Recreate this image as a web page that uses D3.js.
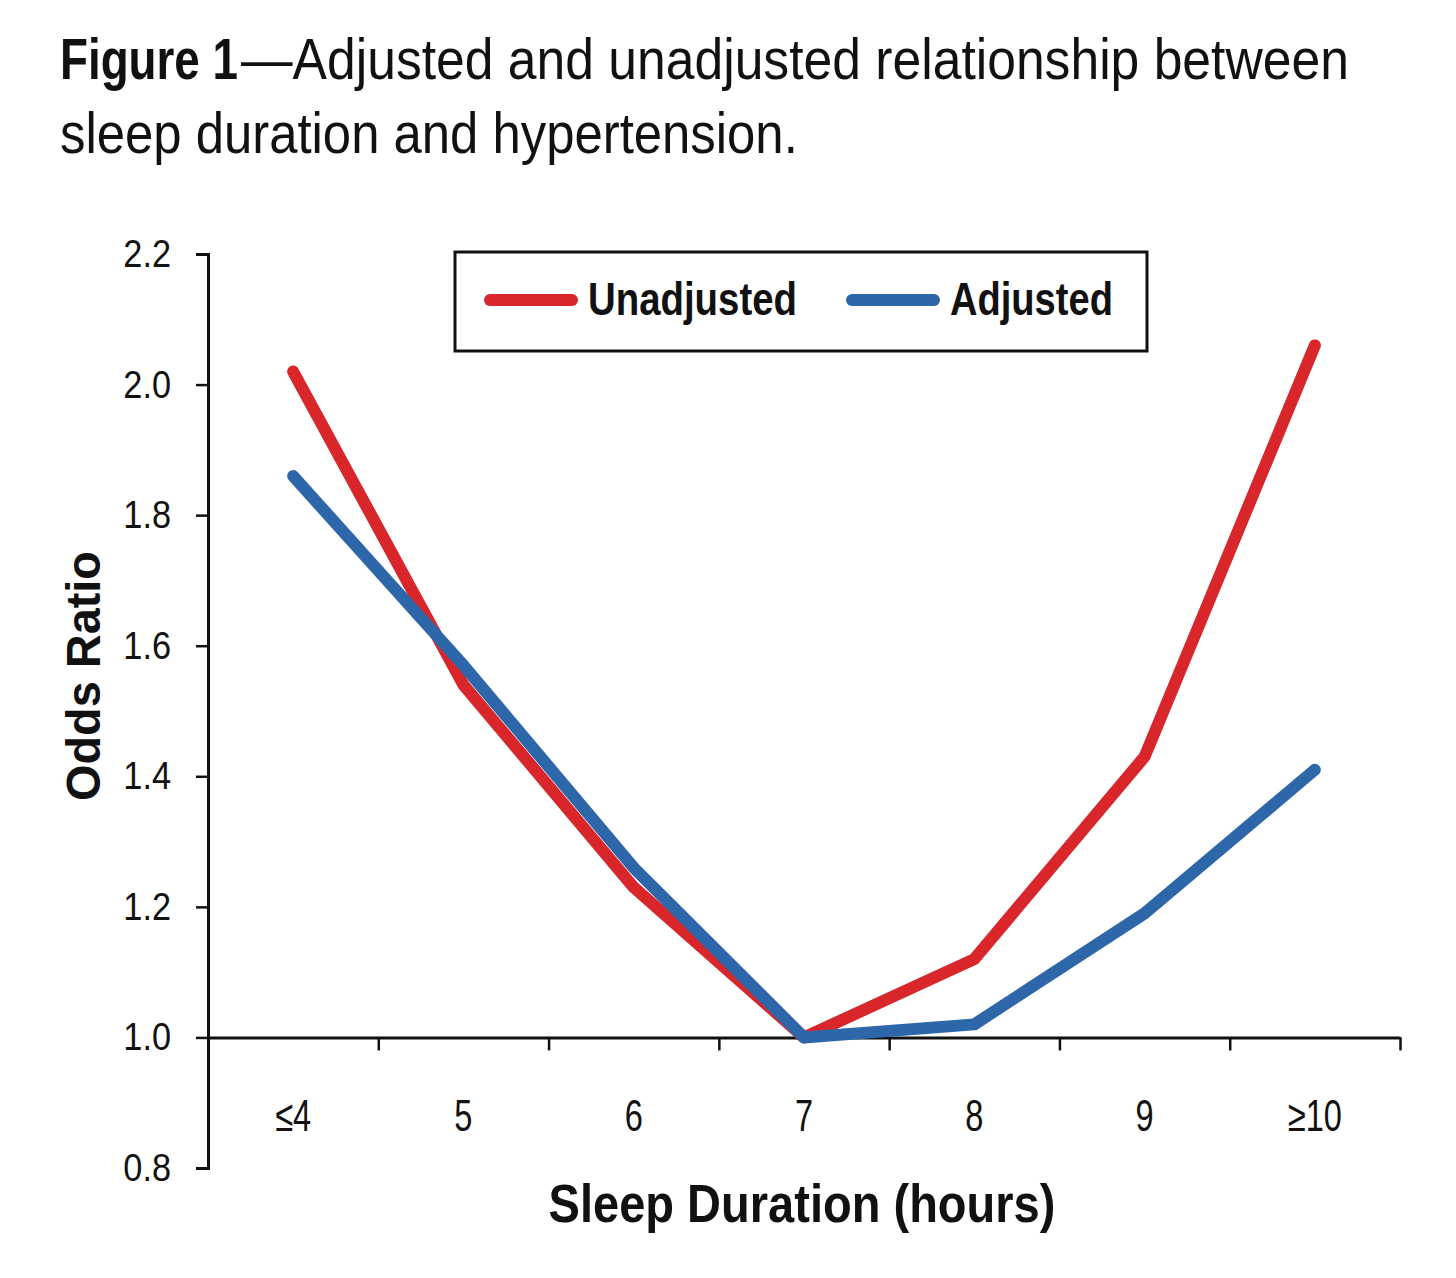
<!DOCTYPE html>
<html>
<head>
<meta charset="utf-8">
<script src="https://cdn.jsdelivr.net/npm/d3@7"></script>
<style>
  html, body { margin: 0; padding: 0; background: #fff; }
  svg { display: block; }
  text { font-family: "Liberation Sans Narrow", "Arial Narrow", "Liberation Sans", Arial, sans-serif; fill: #111; }
</style>
</head>
<body>
<div id="chart"></div>
<script>
// the data
var categories = ["\u22644", "5", "6", "7", "8", "9", "\u226510"];
var unadjusted = [2.02, 1.54, 1.23, 1.00, 1.12, 1.43, 2.06];
var adjusted   = [1.86, 1.57, 1.26, 1.00, 1.02, 1.19, 1.41];
var yTicks = [0.8, 1.0, 1.2, 1.4, 1.6, 1.8, 2.0, 2.2];
var seriesNames = ["Unadjusted", "Adjusted"];
var seriesColors = ["#d8262b", "#2d67a9"];

var W = 1456, H = 1278;

var svg = d3.select("#chart")
       .append("svg")
       .attr("width", W)
       .attr("height", H)
       .attr("viewBox", "0 0 " + W + " " + H);

// no narrow face installed, so squeeze each text to the width it has in the figure
function label(x, y, txt, size, bold, len, anchor, rot) {
       var t = svg.append("text")
              .attr("text-anchor", anchor || "start")
              .style("font-size", size + "px")
              .style("font-weight", bold ? "bold" : "normal")
              .text(txt);
       var sx = len ? len / t.node().getComputedTextLength() : 1;
       t.attr("transform", "translate(" + x + "," + y + ")" +
              (rot ? " rotate(" + rot + ")" : "") +
              " scale(" + sx + ",1)");
       return t;
}

// title, two lines
label(60, 79, "Figure 1", 57, true, 178);
label(241, 79, "\u2014Adjusted and unadjusted relationship between", 57, false, 1108);
label(60, 153, "sleep duration and hypertension.", 57, false, 738);

// scales
var y = d3.scaleLinear()
       .domain([0.8, 2.2])
       .range([1168, 254]);

var x = d3.scaleBand()
       .domain(categories)
       .range([208, 1400]);

// boundary positions between categories, for the tick marks on the x axis
var xEdge = d3.scaleLinear()
       .domain([0, categories.length])
       .range([208, 1400]);

// y axis
var yAxis = svg.append("g")
       .attr("transform", "translate(208,0)")
       .call(d3.axisLeft(y)
              .tickValues(yTicks)
              .tickFormat(d3.format(".1f"))
              .tickSizeInner(12)
              .tickSizeOuter(12)
              .tickPadding(30));
yAxis.select(".domain").attr("stroke", "#111").attr("stroke-width", 3);
yAxis.selectAll(".tick line").attr("stroke", "#111").attr("stroke-width", 2.5);
yAxis.selectAll(".tick text")
       .style("font-size", "39px")
       .style("font-family", null)
       .attr("transform", "scale(0.88,1)")
       .attr("fill", "#111");

// x axis line + boundary ticks, drawn at OR = 1.0
var xTicksG = svg.append("g")
       .attr("transform", "translate(0," + y(1.0) + ")")
       .call(d3.axisBottom(xEdge)
              .tickValues(d3.range(1, categories.length + 1))
              .tickFormat("")
              .tickSizeInner(13)
              .tickSizeOuter(0));
xTicksG.select(".domain").attr("stroke", "#111").attr("stroke-width", 3);
xTicksG.selectAll(".tick line").attr("stroke", "#111").attr("stroke-width", 2.5);

// category labels, hung below the axis
var xLabels = svg.append("g")
       .attr("transform", "translate(0," + y(1.0) + ")")
       .call(d3.axisBottom(x)
              .tickSize(0)
              .tickPadding(62));
xLabels.select(".domain").remove();
xLabels.selectAll(".tick text")
       .style("font-size", "44px")
       .style("font-family", null)
       .attr("transform", "scale(0.74,1)")
       .attr("fill", "#111");

// axis titles
label(100, 676, "Odds Ratio", 49, true, 250, "middle", -90);
label(802, 1222, "Sleep Duration (hours)", 53, true, 507, "middle");

// lines
var line = d3.line()
       .x(function(d, i) { return x(categories[i]) + x.bandwidth() / 2; })
       .y(function(d) { return y(d); });

[unadjusted, adjusted].forEach(function(s, k) {
       svg.append("path")
              .datum(s)
              .attr("d", line)
              .style("stroke", seriesColors[k])
              .style("stroke-width", 12)
              .style("stroke-linecap", "round")
              .style("stroke-linejoin", "round")
              .style("fill", "none");
});

// legend box
svg.append("rect")
       .attr("x", 455)
       .attr("y", 252)
       .attr("width", 692)
       .attr("height", 99)
       .attr("fill", "#fff")
       .attr("stroke", "#111")
       .attr("stroke-width", 3);

var legX = [490, 852];
var legLen = [209, 163];
seriesNames.forEach(function(n, k) {
       svg.append("line")
              .attr("x1", legX[k])
              .attr("x2", legX[k] + 82)
              .attr("y1", 300)
              .attr("y2", 300)
              .style("stroke", seriesColors[k])
              .style("stroke-width", 12)
              .style("stroke-linecap", "round");
       label(legX[k] + 98, 315, n, 46, true, legLen[k]);
});
</script>
</body>
</html>
